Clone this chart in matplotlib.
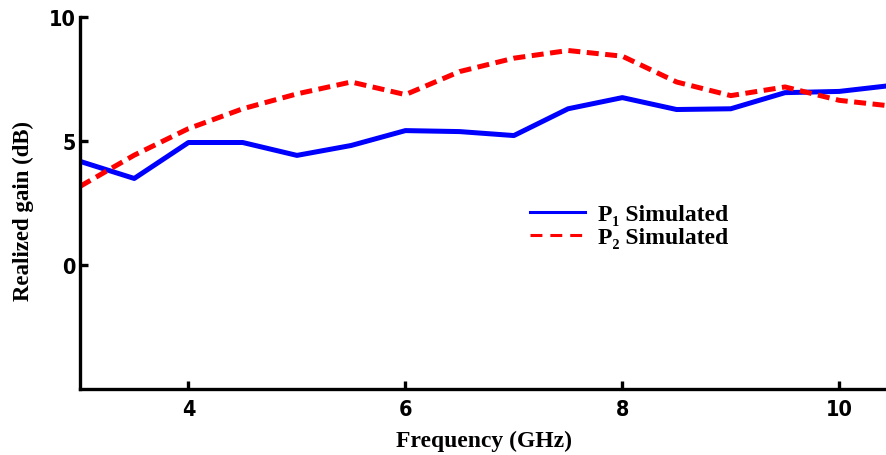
import matplotlib.pyplot as plt

# Realized gain vs frequency for the two ports
freq = [3.0, 3.5, 4.0, 4.5, 5.0, 5.5, 6.0, 6.5, 7.0, 7.5, 8.0, 8.5, 9.0, 9.5, 10.0, 10.5]
gain_p1 = [4.18, 3.49, 4.94, 4.94, 4.42, 4.82, 5.42, 5.38, 5.22, 6.3, 6.75, 6.27, 6.3, 6.95, 7.0, 7.25]
gain_p2 = [3.17, 4.43, 5.5, 6.3, 6.9, 7.38, 6.87, 7.8, 8.34, 8.65, 8.42, 7.38, 6.83, 7.18, 6.64, 6.4]

serif = ["Liberation Serif", "DejaVu Serif"]

fig = plt.figure(figsize=(8.87, 4.56), dpi=100)
ax = fig.add_axes([0.0902, 0.1447, 0.9098, 0.8158])

ax.plot(freq, gain_p1, color="#0000ff", linewidth=3.6, label="P\u2081 Simulated")
ax.plot(freq, gain_p2, color="#ff0000", linewidth=3.6, linestyle=(0, (2.4, 1.3)),
        label="P\u2082 Simulated")

ax.set_xlim(3, 10.44)
ax.set_ylim(-5, 10)
ax.set_xticks([4, 6, 8, 10])
ax.set_yticks([0, 5, 10])

for side in ["top", "right"]:
    ax.spines[side].set_visible(False)
for side in ["left", "bottom"]:
    ax.spines[side].set_linewidth(2.4)

ax.tick_params(direction="in", length=6, width=2.4)
ax.tick_params(axis="x", pad=7)
ax.tick_params(axis="y", pad=3)
for lbl in ax.get_xticklabels() + ax.get_yticklabels():
    lbl.set_family("DejaVu Sans")
    lbl.set_stretch("condensed")
    lbl.set_fontweight("bold")
    lbl.set_fontsize(15.5)

ax.set_xlabel("Frequency (GHz)", family=serif, fontweight="bold", fontsize=17, labelpad=8)
ax.set_ylabel("Realized gain (dB)", family=serif, fontweight="bold", fontsize=16.5)
ax.yaxis.set_label_coords(-0.057, 0.481)

leg = ax.legend(loc="upper left", bbox_to_anchor=(0.531, 0.555), frameon=False,
                prop={"family": serif, "weight": "bold", "size": 17},
                handlelength=2.35, labelspacing=0.05, handletextpad=0.55)
for line in leg.get_lines():
    line.set_linewidth(2.2)
leg.get_lines()[1].set_linestyle((0, (3.9, 2.6)))

fig.savefig("out.png", dpi=100)
